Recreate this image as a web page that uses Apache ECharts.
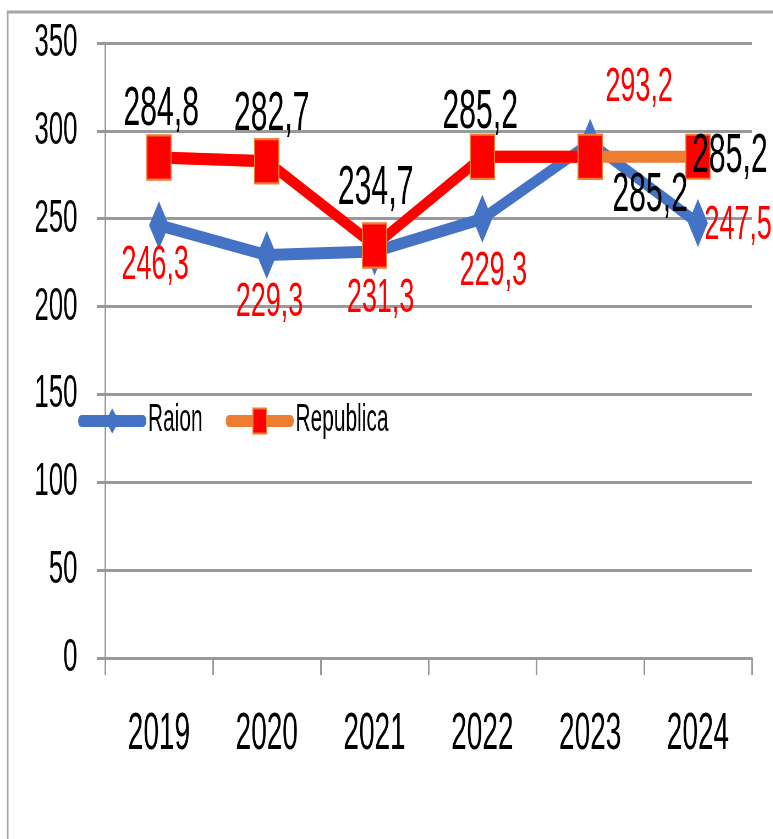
<!DOCTYPE html>
<html>
<head>
<meta charset="utf-8">
<title>Raion / Republica</title>
<script src="https://cdn.jsdelivr.net/npm/echarts@6/dist/echarts.min.js"></script>
<style>
  html, body { margin: 0; padding: 0; background: #fff; overflow: hidden; }
  /* the source picture is squeezed sideways, so draw wide and squeeze it */
  #chart { width: 1405px; height: 839px; transform: scaleX(0.55); transform-origin: 0 0; }
</style>
</head>
<body>
<div id="chart"></div>
<script>
const years = ['2019', '2020', '2021', '2022', '2023', '2024']
const raion = [246.3, 229.3, 231.3, 250, 293.2, 247.5]
const republica = [284.8, 282.7, 234.7, 285.2, 285.2, 285.2]
const raionLabels = ['246,3', '229,3', '231,3', '229,3', '293,2', '247,5']
const republicaLabels = ['284,8', '282,7', '234,7', '285,2', '285,2', '285,2']
const yTicks = [0, 50, 100, 150, 200, 250, 300, 350]

// label nudges, in the wide (unsqueezed) pixels
const raionOffsets = [[-7, 40], [5, 47], [11, 47], [20, 53], [89, -55], [73, 2]]
const republicaOffsets = [[4, -48], [9, -46], [2, -57], [-4, -44], [109, 39], [58, 0]]

const FONT = 'Liberation Sans'
const BLUE = '#4472C4', RED = '#FF0000', ORANGE = '#ED7D31', GRID = '#999999'

const chart = echarts.init(document.getElementById('chart'))

const raionData = raion.map((v, i) => ({
  value: v,
  label: { formatter: raionLabels[i], offset: raionOffsets[i] }
}))
// orange series only shows its own label on the last point
const repData = republica.map((v, i) => ({
  value: v,
  label: { show: i === republica.length - 1, formatter: republicaLabels[i], offset: republicaOffsets[i] }
}))
// red part of the line (all but the last segment), drawn on top
const repRedData = republica.map((v, i) => i < republica.length - 1 ? {
  value: v,
  label: { formatter: republicaLabels[i], offset: republicaOffsets[i] }
} : null)

chart.setOption({
  animation: false,
  textStyle: { fontFamily: FONT },
  grid: { left: 191, right: 38, top: 43, bottom: 181 },
  legend: {
    data: ['Raion', 'Republica'],
    left: 142, top: 402, padding: 0,
    itemWidth: 112, itemHeight: 31, itemGap: 42,
    lineStyle: { width: 12, cap: 'round' },
    textStyle: { fontFamily: FONT, fontSize: 38, color: '#000', padding: [0, 0, 0, 4] }
  },
  graphic: [{
    type: 'polyline', silent: true,
    shape: { points: [[14, 839], [14, 12], [1405, 12]] },
    style: { stroke: '#a6a6a6', lineWidth: 3, fill: null }
  }],
  xAxis: {
    type: 'category', data: years, boundaryGap: true,
    axisLine: { lineStyle: { color: GRID, width: 3 } },
    axisTick: { show: true, length: 17, lineStyle: { color: GRID, width: 3 } },
    axisLabel: { color: '#000', fontFamily: FONT, fontSize: 51, margin: 51 }
  },
  yAxis: {
    type: 'value',
    min: yTicks[0], max: yTicks[yTicks.length - 1], interval: yTicks[1] - yTicks[0],
    axisLine: { show: true, lineStyle: { color: GRID, width: 3 } },
    axisTick: { show: true, length: 15, lineStyle: { color: GRID, width: 3 } },
    axisLabel: { color: '#000', fontFamily: FONT, fontSize: 47, margin: 50 },
    splitLine: { lineStyle: { color: GRID, width: 3 } }
  },
  series: [
    {
      name: 'Raion', type: 'line', z: 2, data: raionData,
      symbol: 'diamond', symbolSize: [36, 48],
      lineStyle: { color: BLUE, width: 12 },
      itemStyle: { color: BLUE },
      label: { show: true, position: 'inside', color: RED, fontFamily: FONT, fontSize: 49 }
    },
    {
      name: 'Republica', type: 'line', z: 3, data: repData,
      symbol: 'rect', symbolSize: [44, 44],
      lineStyle: { color: ORANGE, width: 12 },
      itemStyle: { color: RED, borderColor: ORANGE, borderWidth: 2 },
      label: { position: 'inside', color: '#000', fontFamily: FONT, fontSize: 55 }
    },
    {
      name: '_rep', type: 'line', z: 4, data: repRedData, silent: true,
      symbol: 'rect', symbolSize: [44, 44],
      lineStyle: { color: RED, width: 12 },
      itemStyle: { color: RED, borderColor: ORANGE, borderWidth: 2 },
      label: { show: true, position: 'inside', color: '#000', fontFamily: FONT, fontSize: 55 }
    }
  ]
})
</script>
</body>
</html>
